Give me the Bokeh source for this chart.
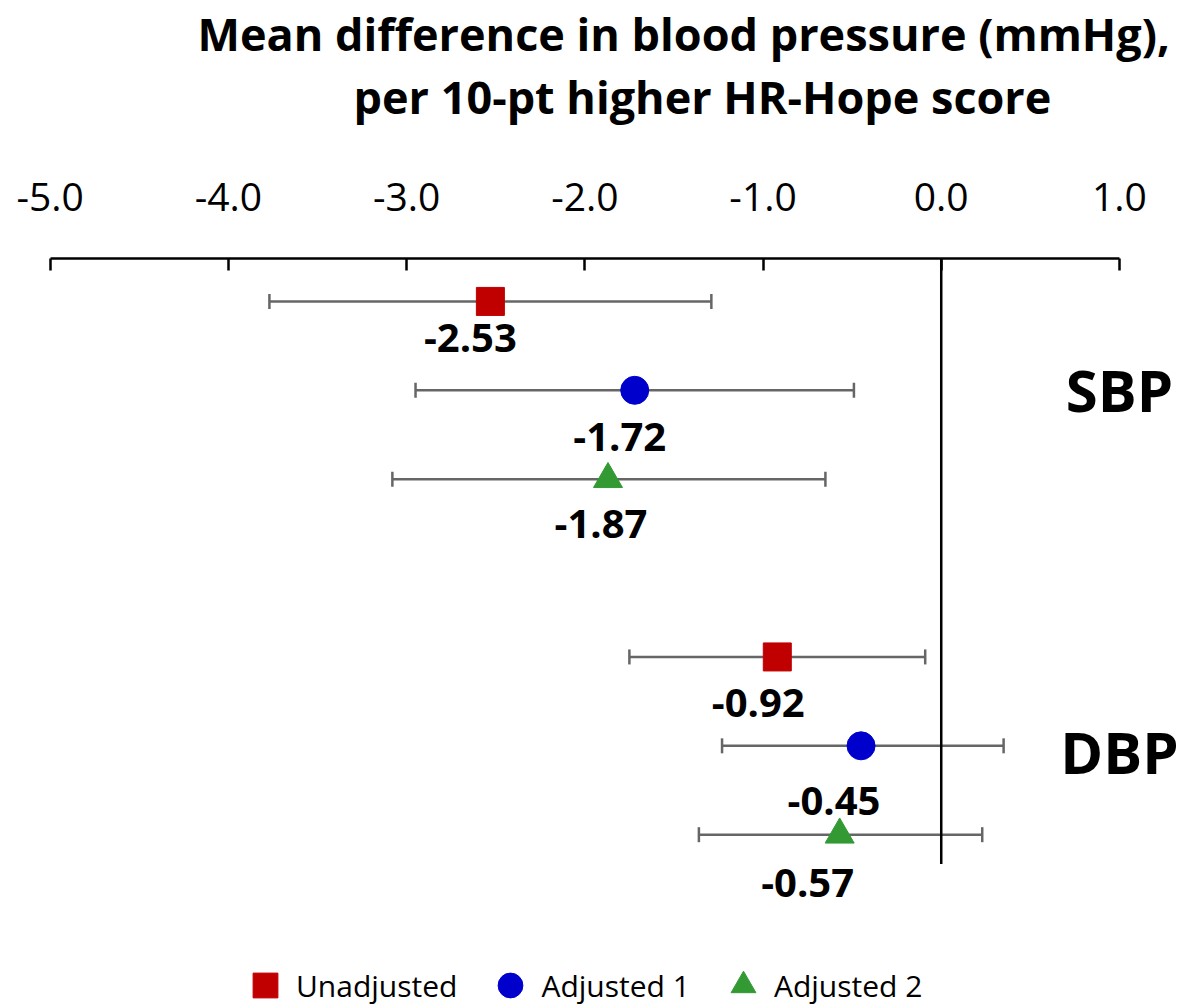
from bokeh.plotting import figure
from bokeh.models import (Range1d, LinearAxis, FixedTicker, Whisker, TeeHead,
                          ColumnDataSource, Legend, LegendItem, Title)
from bokeh.core.properties import value
from bokeh.embed import file_html
from bokeh.resources import INLINE

# ---------------- data ----------------
outcomes = ["SBP", "DBP"]
models = ["Unadjusted", "Adjusted 1", "Adjusted 2"]

sbp_estimate = [-2.53, -1.72, -1.87]
sbp_lower = [-3.77, -2.95, -3.08]
sbp_upper = [-1.29, -0.49, -0.65]

dbp_estimate = [-0.92, -0.45, -0.57]
dbp_lower = [-1.75, -1.23, -1.36]
dbp_upper = [-0.09, 0.35, 0.23]

tick_values = [-5.0, -4.0, -3.0, -2.0, -1.0, 0.0, 1.0]
tick_labels = ["-5.0", "-4.0", "-3.0", "-2.0", "-1.0", "0.0", "1.0"]

title_line1 = "Mean difference in blood pressure (mmHg),"
title_line2 = "per 10-pt higher HR-Hope score"

# ---------------- styles ----------------
colors = ["#C00000", "#0000CC", "#339933"]
markers = ["square", "circle", "triangle"]
marker_sizes = [28, 28, 29]
# pixel offsets of the value labels (SBP row, DBP row) per model
label_dx = [[-20, -19], [-15, -27], [-7, -32]]
label_dy = [[37, 46], [47, 55], [45, 48]]
FONT = "Open Sans"

p = figure(width=1197, height=1006, output_backend="svg", toolbar_location=None,
           x_range=Range1d(-5.279, 1.438), y_range=Range1d(8.933, 0.517),
           x_axis_location=None, y_axis_location=None,
           min_border_left=0, min_border_right=0, min_border_top=257,
           min_border_bottom=0)
p.outline_line_color = None
p.background_fill_color = "white"
p.border_fill_color = "white"
p.grid.visible = False

axis = LinearAxis(ticker=FixedTicker(ticks=tick_values),
                  major_label_overrides={v: l for v, l in zip(tick_values, tick_labels)})
axis.bounds = (tick_values[0], tick_values[-1])
axis.axis_line_width = 2.5
axis.axis_line_color = "black"
axis.major_tick_line_width = 2.5
axis.major_tick_line_color = "black"
axis.major_tick_in = 12
axis.major_tick_out = 0
axis.minor_tick_line_color = None
axis.major_label_standoff = 48
axis.major_label_text_font = FONT
axis.major_label_text_font_size = "39px"
axis.major_label_text_color = "black"
p.add_layout(axis, "above")

# spacer between tick labels and the title
p.add_layout(Title(text=" ", text_font_size="1px", standoff=50), "above")
p.add_layout(Title(text=title_line2, align="left", offset=353, standoff=0,
                   text_font=FONT, text_font_size="45px", text_font_style="bold",
                   text_color="black"), "above")
p.add_layout(Title(text=title_line1, align="left", offset=197, standoff=0,
                   text_font=FONT, text_font_size="45px", text_font_style="bold",
                   text_color="black"), "above")

# reference line at zero
p.segment(x0=[0.0], x1=[0.0], y0=[0.517], y1=[7.33], line_color="black", line_width=2.5)

legend_items = []
for m, name in enumerate(models):
    rows = [1 + m, 5 + m]
    est = [sbp_estimate[m], dbp_estimate[m]]
    src = ColumnDataSource(dict(
        row=rows, est=est,
        lo=[sbp_lower[m], dbp_lower[m]],
        hi=[sbp_upper[m], dbp_upper[m]],
        lab=["%.2f" % v for v in est],
        dx=label_dx[m], dy=label_dy[m],
    ))
    w = Whisker(base="row", lower="lo", upper="hi", dimension="width", source=src,
                line_color="#666666", line_width=2.5, level="underlay",
                lower_head=TeeHead(size=15, line_color="#666666", line_width=2.5),
                upper_head=TeeHead(size=15, line_color="#666666", line_width=2.5))
    p.add_layout(w)
    r = p.scatter(x="est", y="row", source=src, marker=markers[m],
                  size=marker_sizes[m], fill_color=colors[m], line_color=colors[m])
    p.text(x="est", y="row", text="lab", x_offset="dx", y_offset="dy", source=src,
           text_align="center", text_baseline="middle",
           text_font=value(FONT), text_font_size="40px", text_font_style="bold",
           text_color="black")
    legend_items.append(LegendItem(label=name, renderers=[r]))

# outcome labels
p.text(x=[1.0, 1.0], y=[2, 6], text=outcomes, y_offset=[-1, 6],
       text_align="center", text_baseline="middle",
       text_font=value(FONT), text_font_size="58px", text_font_style="bold",
       text_color="black")

legend = Legend(items=legend_items, orientation="horizontal", location=(234, -12),
                glyph_width=62, glyph_height=66, label_standoff=0, spacing=22,
                padding=0, margin=0, border_line_color=None,
                background_fill_alpha=0, label_text_font=FONT,
                label_text_font_size="30px", label_text_color="black")
p.add_layout(legend)

open("out.html", "w").write(file_html(p, INLINE))
